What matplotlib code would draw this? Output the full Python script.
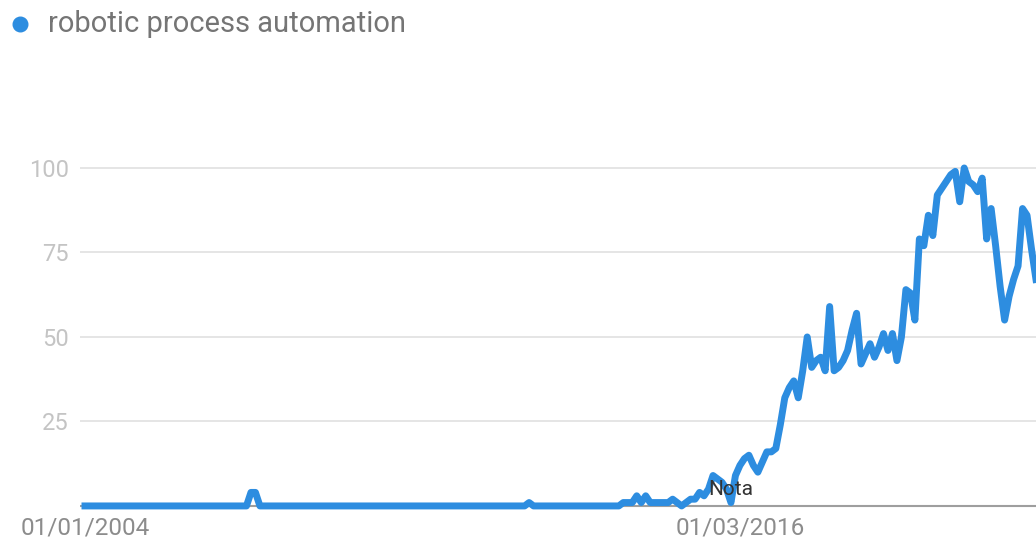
#!/usr/bin/env python3
"""Google Trends style interest-over-time chart for 'robotic process automation'."""
import matplotlib
matplotlib.use('Agg')
import matplotlib.pyplot as plt
from matplotlib.lines import Line2D

BLUE = '#2d8de0'
plt.rcParams['font.family'] = ['Roboto', 'DejaVu Sans']

SERIES_NAME = 'robotic process automation'
START_LABEL = '01/01/2004'
MID_LABEL = '01/03/2016'
MID_MONTH = 146          # months after Jan 2004
NOTE_MONTH = 139
NOTE_TEXT = 'Nota'

# monthly interest, starting Jan 2004 (0-100 scale)
early = [0] * 37 + [4, 4] + [0] * 60 + [1] + [0] * 20
ramp = [1, 1, 1, 3, 1, 3, 1, 1, 1, 1, 1, 2, 1, 0, 1, 2]          # months 120-135
rise = [2, 4, 3, 5, 9, 8, 7, 5, 1, 9, 12, 14, 15, 12, 10, 13, 16, 16, 17,
        24, 32, 35, 37, 32, 40, 50, 41, 43, 44, 40, 59, 40, 41, 43, 46, 52,
        57, 42, 45, 48, 44, 47, 51, 46, 51, 43, 50, 64, 63, 55, 79, 77, 86,
        80, 92, 94, 96, 98, 99, 90, 100, 96, 95, 93, 97, 79, 88, 77, 65, 55,
        62, 67, 71, 88, 86, 76, 67]                                  # months 136-212
interest = early + ramp + rise
months = list(range(len(interest)))

fig = plt.figure(figsize=(10.36, 5.4), dpi=100)
ax = fig.add_axes([80/1036, 0.0443, 1 - 80/1036, 0.7072])
ax.set_xlim(-1.11, 212.0)
ax.set_ylim(-3, 110)

for v in [25, 50, 75, 100]:
    ax.axhline(v, color='#e3e3e3', lw=1.3, zorder=1)
ax.axhline(0, color='#9e9e9e', lw=1.5, zorder=1)

ax.plot(months, interest, color=BLUE, lw=5, solid_joinstyle='round', zorder=3)
ax.text(NOTE_MONTH, 5, NOTE_TEXT, fontsize=15, color='#333333', va='center', ha='left', zorder=4)

ax.set_yticks([25, 50, 75, 100])
ax.set_yticklabels(['25', '50', '75', '100'], fontsize=17, color='#c4c4c4')
ax.set_xticks([0, MID_MONTH])
ax.set_xticklabels([START_LABEL, MID_LABEL], fontsize=17.5, color='#8c8c8c')
ax.tick_params(axis='y', length=0, pad=8)
ax.tick_params(axis='x', length=0, pad=0)
for sp in ax.spines.values():
    sp.set_visible(False)

# legend row at top-left
fig.add_artist(Line2D([20/1036], [1 - 24/540], transform=fig.transFigure,
                      marker='o', ls='', color=BLUE, markersize=10.5))
fig.text(48/1036, 1 - 24/540, SERIES_NAME, fontsize=21, color='#757575',
         va='center', ha='left')

plt.savefig('out.png', dpi=100)
print("saved out.png")
